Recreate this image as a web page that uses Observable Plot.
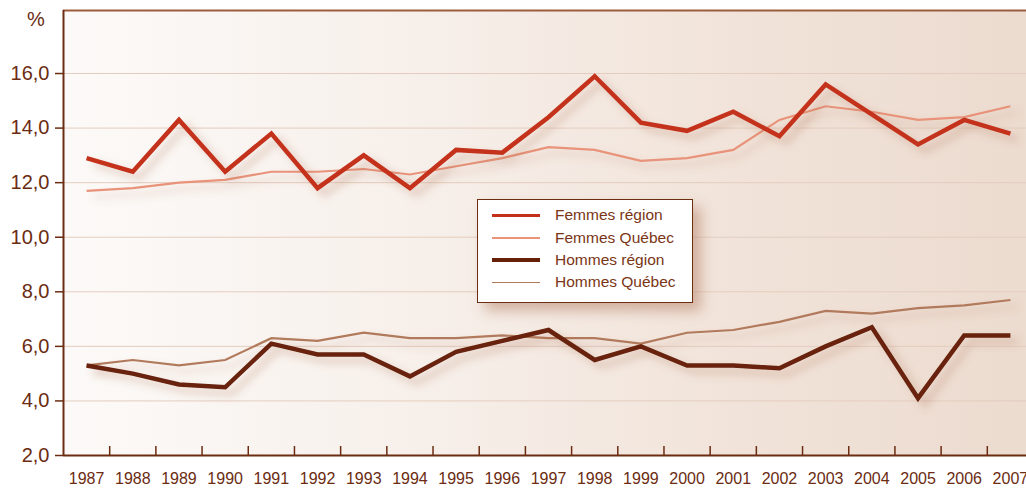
<!DOCTYPE html>
<html>
<head>
<meta charset="utf-8">
<script src="https://cdn.jsdelivr.net/npm/d3@7"></script>
<script src="https://cdn.jsdelivr.net/npm/@observablehq/plot@0.6"></script>
<style>
  html, body { margin: 0; padding: 0; background: #ffffff; overflow: hidden; }
  #wrap { position: relative; width: 1026px; height: 488px; font-family: "Liberation Sans", Arial, sans-serif; }
  #pct { position: absolute; left: 27px; top: 7px; font-size: 20px; color: #6b2c12; line-height: 24px; }
  #legend { position: absolute; left: 477px; top: 199px; width: 214px; height: 98px; box-sizing: content-box;
            border: 1.5px solid #6d2d10; background: #ffffff; box-shadow: 8px 8px 12px rgba(170,110,80,0.45);
            padding-top: 4px; }
  .row { display: flex; align-items: center; height: 22.4px; }
  .sw { margin-left: 14px; width: 48px; margin-right: 15px; }
  .lab { font-size: 15.5px; color: #7a3516; white-space: nowrap; }
</style>
</head>
<body>
<div id="wrap">
  <div id="chart"></div>
  <div id="pct">%</div>
  <div id="legend"></div>
</div>
<script>
// ---------- data ----------
const years = [1987, 1988, 1989, 1990, 1991, 1992, 1993, 1994, 1995, 1996, 1997,
               1998, 1999, 2000, 2001, 2002, 2003, 2004, 2005, 2006, 2007];
const femmesRegion = [12.9, 12.4, 14.3, 12.4, 13.8, 11.8, 13.0, 11.8, 13.2, 13.1, 14.4,
                      15.9, 14.2, 13.9, 14.6, 13.7, 15.6, 14.5, 13.4, 14.3, 13.8];
const femmesQuebec = [11.7, 11.8, 12.0, 12.1, 12.4, 12.4, 12.5, 12.3, 12.6, 12.9, 13.3,
                      13.2, 12.8, 12.9, 13.2, 14.3, 14.8, 14.6, 14.3, 14.4, 14.8];
const hommesRegion = [5.3, 5.0, 4.6, 4.5, 6.1, 5.7, 5.7, 4.9, 5.8, 6.2, 6.6,
                      5.5, 6.0, 5.3, 5.3, 5.2, 6.0, 6.7, 4.1, 6.4, 6.4];
const hommesQuebec = [5.3, 5.5, 5.3, 5.5, 6.3, 6.2, 6.5, 6.3, 6.3, 6.4, 6.3,
                      6.3, 6.1, 6.5, 6.6, 6.9, 7.3, 7.2, 7.4, 7.5, 7.7];
const seriesNames = ["Femmes région", "Femmes Québec", "Hommes région", "Hommes Québec"];
const yTicks = [2, 4, 6, 8, 10, 12, 14, 16];
const yTop = 18.31;

// ---------- styles ----------
const seriesStyle = {
  "Femmes région": {stroke: "#c4311b", width: 4.5, legendWidth: 3},
  "Femmes Québec": {stroke: "#e8937a", width: 2.2, legendWidth: 2},
  "Hommes région": {stroke: "#672008", width: 4.5, legendWidth: 3.5},
  "Hommes Québec": {stroke: "#b27a5c", width: 2.2, legendWidth: 1.5}
};
const axisColor = "#6b2c12";

const seriesValues = {
  "Femmes région": femmesRegion,
  "Femmes Québec": femmesQuebec,
  "Hommes région": hommesRegion,
  "Hommes Québec": hommesQuebec
};
const rows = name => years.map((year, i) => ({year, value: seriesValues[name][i], series: name}));

const xDomain = [years[0] - 0.5, years[years.length - 1] + 0.5];
const xTickMarks = years.slice(0, -1).map(y => y + 0.5);
const drawOrder = ["Femmes Québec", "Hommes Québec", "Femmes région", "Hommes région"];

const chart = Plot.plot({
  width: 1026,
  height: 488,
  marginTop: 10,
  marginBottom: 33,
  marginLeft: 63,
  marginRight: 0,
  style: {fontFamily: "'Liberation Sans', Arial, sans-serif", background: "transparent", overflow: "visible"},
  x: {domain: xDomain, range: [63, 1033]},
  y: {domain: [yTicks[0], yTop]},
  marks: [
    Plot.frame({fill: "url(#bgGrad)", stroke: "none"}),
    Plot.ruleY(yTicks.slice(1), {stroke: "#e4cdbf", strokeWidth: 1}),
    Plot.ruleY([yTop], {stroke: "#9c5d3e", strokeWidth: 2}),
    ...drawOrder.map(name => Plot.line(rows(name), {
      x: "year", y: "value",
      stroke: seriesStyle[name].stroke,
      strokeWidth: seriesStyle[name].width,
      strokeLinejoin: "miter",
      strokeLinecap: "butt",
      strokeMiterlimit: 10
    })),
    Plot.ruleY([yTicks[0]], {stroke: axisColor, strokeWidth: 2}),
    Plot.ruleX([xDomain[0]], {stroke: axisColor, strokeWidth: 2}),
    Plot.ruleX(xTickMarks, {x: d => d, y1: yTicks[0], y2: yTicks[0], insetBottom: 9, stroke: axisColor, strokeWidth: 1.5}),
    Plot.axisY({
      ticks: yTicks,
      tickFormat: d => d.toFixed(1).replace(".", ","),
      tickSize: 8, tickPadding: 6,
      fontSize: 20, color: axisColor, stroke: axisColor, strokeWidth: 1.5,
      label: null
    }),
    Plot.axisX({
      ticks: years,
      tickFormat: d => String(d),
      tickSize: 0, tickPadding: 17,
      fontSize: 16, color: axisColor,
      label: null
    })
  ]
});

// gradient background + soft shadows
const svg = d3.select(chart);
const defs = svg.insert("defs", ":first-child");
const grad = defs.append("linearGradient").attr("id", "bgGrad").attr("x1", "0%").attr("x2", "100%").attr("y1", "0%").attr("y2", "0%");
grad.append("stop").attr("offset", "0%").attr("stop-color", "#fcfaf8");
grad.append("stop").attr("offset", "35%").attr("stop-color", "#f7f0eb");
grad.append("stop").attr("offset", "70%").attr("stop-color", "#f1e3d9");
grad.append("stop").attr("offset", "100%").attr("stop-color", "#ecdbcf");
const filt = defs.append("filter").attr("id", "shadow").attr("filterUnits", "userSpaceOnUse")
  .attr("x", 0).attr("y", 0).attr("width", 1100).attr("height", 500);
filt.append("feDropShadow").attr("dx", 7).attr("dy", 6).attr("stdDeviation", 4)
  .attr("flood-color", "#a8684a").attr("flood-opacity", 0.35);
svg.selectAll('g[aria-label="line"]').attr("filter", "url(#shadow)");

document.getElementById("chart").appendChild(chart);

// legend
const legend = d3.select("#legend");
seriesNames.forEach(name => {
  const r = legend.append("div").attr("class", "row");
  r.append("div").attr("class", "sw")
    .style("height", seriesStyle[name].legendWidth + "px")
    .style("background", seriesStyle[name].stroke);
  r.append("div").attr("class", "lab").text(name);
});
</script>
</body>
</html>
